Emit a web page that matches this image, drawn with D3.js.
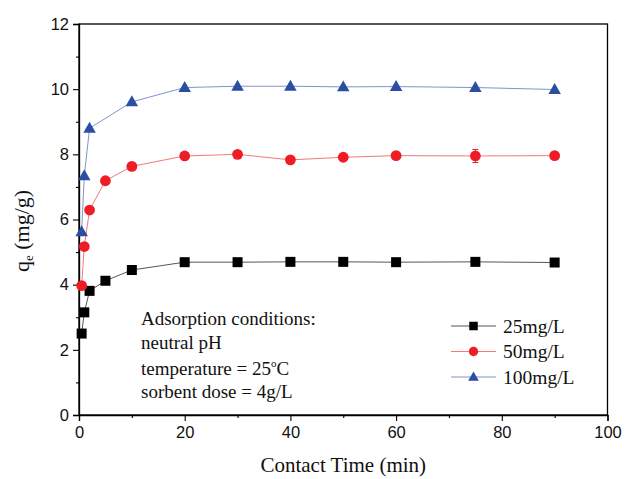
<!DOCTYPE html>
<html>
<head>
<meta charset="utf-8">
<script src="https://cdn.jsdelivr.net/npm/d3@7"></script>
<style>
  html, body { margin: 0; padding: 0; background: #fff; }
  svg { display: block; }
</style>
</head>
<body>
<svg id="chart" width="625" height="479"></svg>
<script>
// Contact time (min) for the sampling points
const times = [0.5, 1, 2, 5, 10, 20, 30, 40, 50, 60, 75, 90];
const times100 = [0.5, 1, 2, 10, 20, 30, 40, 50, 60, 75, 90];
// Adsorption capacity q_e (mg/g) for each initial concentration
const q25  = [2.50, 3.15, 3.81, 4.12, 4.45, 4.69, 4.69, 4.70, 4.70, 4.69, 4.70, 4.68];
const q50  = [3.97, 5.17, 6.29, 7.19, 7.63, 7.95, 8.00, 7.83, 7.91, 7.96, 7.95, 7.96];
const q100 = [5.62, 7.34, 8.80, 9.61, 10.05, 10.09, 10.09, 10.07, 10.08, 10.05, 9.99];
// error bar half-widths (only the 75 min point of the 50 mg/L series is visibly non-zero)
const err50 = [0, 0, 0, 0, 0, 0, 0, 0, 0, 0, 0.2, 0];
const seriesNames = ["25mg/L", "50mg/L", "100mg/L"];
const xTicks = [0, 20, 40, 60, 80, 100];
const yTicks = [0, 2, 4, 6, 8, 10, 12];
const notes = ["Adsorption conditions:", "neutral pH", "temperature = 25°C", "sorbent dose = 4g/L"];

const svg = d3.select("#chart");
const plotL = 79, plotR = 607.5, plotT = 24, plotB = 415;

const x = d3.scaleLinear().domain([0, 100]).range([plotL, plotR]);
const y = d3.scaleLinear().domain([0, 12]).range([plotB, plotT]);

const series = [
  { name: seriesNames[0], t: times,    values: q25,  err: null,  marker: "square",   fill: "#000000", line: "#555555" },
  { name: seriesNames[1], t: times,    values: q50,  err: err50, marker: "circle",   fill: "#ee1c25", line: "#f27a7a" },
  { name: seriesNames[2], t: times100, values: q100, err: null,  marker: "triangle", fill: "#2b4ea2", line: "#8193cf" }
];

// plot frame
svg.append("rect")
  .attr("x", plotL).attr("y", plotT)
  .attr("width", plotR - plotL).attr("height", plotB - plotT)
  .attr("fill", "none").attr("stroke", "#000").attr("stroke-width", 1.3);

// axes with outward ticks
const sansFont = "'Liberation Sans', Arial, sans-serif";
const serifFont = "'Liberation Serif', 'Times New Roman', serif";

const xAxis = svg.append("g").attr("transform", `translate(0,${plotB})`)
  .call(d3.axisBottom(x).tickValues(xTicks).tickSize(6).tickPadding(5).tickFormat(d3.format("d")));
const yAxis = svg.append("g").attr("transform", `translate(${plotL},0)`)
  .call(d3.axisLeft(y).tickValues(yTicks).tickSize(6).tickPadding(4).tickFormat(d3.format("d")));

// minor ticks
svg.append("g").attr("transform", `translate(0,${plotB})`)
  .call(d3.axisBottom(x).tickValues(d3.range(10, 100, 20)).tickSize(3).tickFormat(""))
  .call(g => g.select(".domain").remove());
svg.append("g").attr("transform", `translate(${plotL},0)`)
  .call(d3.axisLeft(y).tickValues(d3.range(1, 12, 2)).tickSize(3).tickFormat(""))
  .call(g => g.select(".domain").remove());

svg.selectAll(".domain").attr("stroke", "#000").attr("stroke-width", 1.3);
svg.selectAll(".tick line").attr("stroke", "#000").attr("stroke-width", 1.1);
[xAxis, yAxis].forEach(g => g.selectAll("text")
  .attr("font-family", sansFont).attr("font-size", 16.5).attr("fill", "#111"));

// axis titles
svg.append("text")
  .attr("x", (plotL + plotR) / 2).attr("y", 472)
  .attr("text-anchor", "middle")
  .attr("font-family", serifFont).attr("font-size", 21).attr("fill", "#111")
  .text("Contact Time (min)");

const yTitle = svg.append("text")
  .attr("transform", `translate(29,231) rotate(-90)`)
  .attr("text-anchor", "middle")
  .attr("font-family", serifFont).attr("font-size", 22).attr("fill", "#111");
yTitle.append("tspan").text("q");
yTitle.append("tspan").attr("font-size", 13).attr("dy", 4).text("e");
yTitle.append("tspan").attr("dy", -4).text(" (mg/g)");

// marker drawing helper
function drawMarker(sel, kind, fill, size) {
  if (kind === "square") {
    sel.append("rect").attr("x", -size / 2).attr("y", -size / 2)
      .attr("width", size).attr("height", size).attr("fill", fill);
  } else if (kind === "circle") {
    sel.append("circle").attr("r", size / 2 + 0.4).attr("fill", fill);
  } else {
    const h = size * 1.05, w = size * 1.25;
    sel.append("path")
      .attr("d", `M0,${-h * 0.62}L${w / 2},${h * 0.42}L${-w / 2},${h * 0.42}Z`)
      .attr("fill", fill);
  }
}

const line = d3.line().x(d => x(d.t)).y(d => y(d.v));

series.forEach(s => {
  const pts = s.t.map((t, i) => ({ t, v: s.values[i], e: s.err ? s.err[i] : 0 }));
  const g = svg.append("g");
  g.append("path").datum(pts).attr("d", line)
    .attr("fill", "none").attr("stroke", s.line).attr("stroke-width", 1);

  // error bars
  pts.filter(p => p.e > 0).forEach(p => {
    const eb = g.append("g").attr("stroke", s.fill).attr("stroke-width", 1);
    eb.append("line").attr("x1", x(p.t)).attr("x2", x(p.t)).attr("y1", y(p.v - p.e)).attr("y2", y(p.v + p.e));
    [p.v - p.e, p.v + p.e].forEach(v =>
      eb.append("line").attr("x1", x(p.t) - 3).attr("x2", x(p.t) + 3).attr("y1", y(v)).attr("y2", y(v)));
  });

  g.selectAll("g.pt").data(pts).join("g").attr("class", "pt")
    .attr("transform", d => `translate(${x(d.t)},${y(d.v)})`)
    .each(function () { drawMarker(d3.select(this), s.marker, s.fill, 10); });
});

// legend
const legend = svg.append("g");
series.forEach((s, i) => {
  const ly = 326 + i * 25.5;
  legend.append("line").attr("x1", 451).attr("x2", 496).attr("y1", ly).attr("y2", ly)
    .attr("stroke", s.line).attr("stroke-width", 1);
  const m = legend.append("g").attr("transform", `translate(473.5,${ly})`);
  drawMarker(m, s.marker, s.fill, 8.5);
  legend.append("text").attr("x", 503).attr("y", ly + 6.5)
    .attr("font-family", serifFont).attr("font-size", 19.5).attr("fill", "#111")
    .text(s.name);
});

// experimental conditions note
const noteY = [325, 349, 375, 398];
notes.forEach((t, i) => {
  const tx = svg.append("text").attr("x", 141).attr("y", noteY[i])
    .attr("font-family", serifFont).attr("font-size", 19).attr("fill", "#111");
  if (t.includes("°")) {
    const parts = t.split("°");
    tx.append("tspan").text(parts[0]);
    tx.append("tspan").attr("font-size", 11).attr("dy", -8).text("o");
    tx.append("tspan").attr("dy", 8).text(parts[1]);
  } else {
    tx.text(t);
  }
});
</script>
</body>
</html>
